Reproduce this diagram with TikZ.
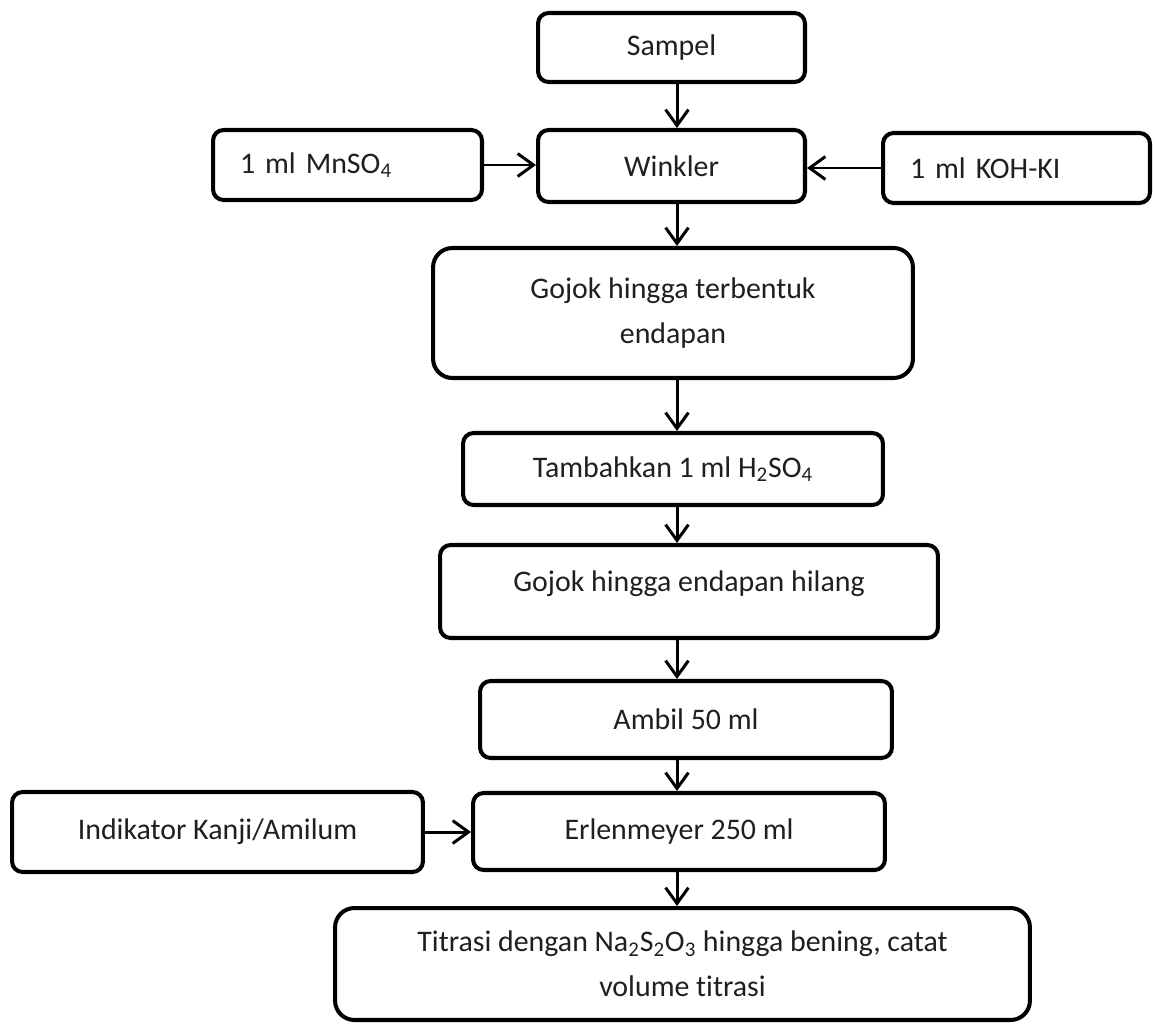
\documentclass[tikz,border=0pt]{standalone}
\usepackage{fontspec}
\setmainfont{Carlito}[Ligatures={NoCommon,NoContextual},Contextuals={NoAlternate}]
\usetikzlibrary{arrows.meta}
\begin{document}
\begin{tikzpicture}[x=0.02cm,y=-0.02cm,
  stepbox/.style={draw=black, line width=2.3pt, rounded corners=6pt,
    align=center, inner sep=0pt, text=black!88,
    font=\fontsize{17}{25.5}\selectfont},
  bigbox/.style={stepbox, rounded corners=11pt},
  sidebox/.style={stepbox, align=left, inner xsep=0.54cm},
  flow/.style={-{Straight Barb[length=9pt,width=13pt]}, line width=1.7pt}]
\useasboundingbox (0,0) rectangle (1155,1024);

% main column
\node[stepbox, minimum width=5.34cm, minimum height=1.38cm] (sampel) at (671.5,47.5) {Sampel};
\node[stepbox, minimum width=5.34cm, minimum height=1.44cm] (winkler) at (671.5,166) {Winkler};
\node[bigbox, minimum width=9.6cm, minimum height=2.6cm] (gojok1) at (673,313) {Gojok hingga terbentuk\\endapan};
\node[stepbox, minimum width=8.4cm, minimum height=1.44cm] (tambah) at (673,469) {Tambahkan 1 ml H\textsubscript{2}SO\textsubscript{4}};
\node[stepbox, minimum width=9.96cm, minimum height=1.86cm] (gojok2) at (689,591.5)
  {\raisebox{0pt}[\height][\dimexpr\depth+0.32cm\relax]{Gojok hingga endapan hilang}};
\node[stepbox, minimum width=8.24cm, minimum height=1.54cm] (ambil) at (686,719.5) {Ambil 50 ml};
\node[stepbox, minimum width=8.24cm, minimum height=1.54cm] (erlen) at (679,831.5) {Erlenmeyer 250 ml};
\node[bigbox, minimum width=13.9cm, minimum height=2.24cm] (titrasi) at (682.5,964)
  {Titrasi dengan Na\textsubscript{2}S\textsubscript{2}O\textsubscript{3} hingga bening, catat\\volume titrasi};

% reagents added from the side
\node[sidebox, text width=4.3cm, minimum height=1.40cm] (mnso4) at (347.5,165) {1 ml MnSO\textsubscript{4}};
\node[sidebox, text width=4.26cm, minimum height=1.40cm] (koh) at (1016.5,168) {1 ml KOH-KI};
\node[stepbox, minimum width=8.22cm, minimum height=1.6cm] (indik) at (217.5,832) {Indikator Kanji/Amilum};

% vertical spine of the flow
\coordinate (spine) at (677,0);
\foreach \a/\b in {sampel/winkler, winkler/gojok1, gojok1/tambah, tambah/gojok2,
                   gojok2/ambil, ambil/erlen, erlen/titrasi}
  \draw[flow] (\a.south -| spine) -- (\b.north -| spine);

% side inputs
\draw[flow] (mnso4.east) -- (mnso4.east -| winkler.west);
\draw[flow] (koh.west) -- (koh.west -| winkler.east);
\draw[flow] (indik.east) -- (indik.east -| erlen.west);
\end{tikzpicture}
\end{document}
